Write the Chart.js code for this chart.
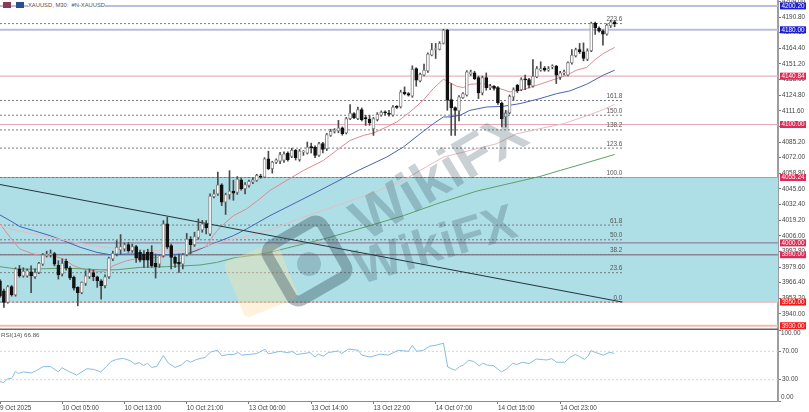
<!DOCTYPE html>
<html>
<head>
<meta charset="utf-8">
<title>XAUUSD M30</title>
<script src="https://cdn.jsdelivr.net/npm/chart.js@4/dist/chart.umd.min.js"></script>
<style>
  html, body { margin: 0; padding: 0; background: #fff; overflow: hidden; }
  #wrap { position: relative; width: 809px; height: 412px; overflow: hidden; font-family: "Liberation Sans", sans-serif; filter: blur(0.35px); }
  canvas { position: absolute; left: 0; }
  #mainChart { top: 0; }
  #rsiChart { top: 330px; }
  .hdr { position: absolute; top: 2px; height: 6px; }
  #title { position: absolute; left: 28px; top: 1px; font-size: 5.8px; line-height: 8px; color: #555; white-space: pre; background: #fff; }
  #rsiTitle { position: absolute; left: 1px; top: 331px; font-size: 6.2px; line-height: 8px; color: #555; }
  .mark { position: absolute; white-space: nowrap; pointer-events: none; }
  .wm { font-weight: bold; color: rgba(60, 85, 95, 0.27); font-family: "Liberation Sans", sans-serif; }
</style>
</head>
<body>
<div id="wrap">
  <canvas id="mainChart" width="809" height="330"></canvas>
  <canvas id="rsiChart" width="809" height="82"></canvas>
  <div id="title">XAUUSD, M30:  #N-XAUUSD</div>
  <div class="hdr" style="left:3px;width:8px;background:#8a3a55"></div>
  <div class="hdr" style="left:16px;width:8px;background:#2a4f8f"></div>
  <div id="rsiTitle">RSI(14) 66.86</div>
  <!-- watermark -->
  <div class="mark" style="left:232px;top:250px;width:58px;height:60px;background:rgba(250,226,170,0.4);transform:rotate(-22deg);border-radius:6px"></div>
  <div class="mark" style="left:270px;top:224px;width:52px;height:52px;border:11px solid rgba(60,85,95,0.4);border-radius:14px;transform:rotate(-30deg)"></div>
  <div class="mark" style="left:297px;top:252px;width:24px;height:24px;background:rgba(60,85,95,0.25);border-radius:50%"></div>
  <div class="mark wm" style="left:342px;top:145px;font-size:58px;line-height:60px;transform:rotate(-31deg)">WikiFX</div>
  <div class="mark wm" style="left:352px;top:218px;font-size:50px;line-height:52px;transform:rotate(-17deg)">WikiFX</div>
</div>

<script>
// XAUUSD M30 candles (bar index = position in the arrays)
const opens = [3968,3959.5,3949.7,3963,3956,3978,3972,3972,3975.5,3971.4,3975,3982,3989,3990,3991,3981,3973.7,3984.4,3978.7,3970.8,
  3962.4,3958,3965.7,3971.4,3975,3971.4,3968,3963.8,3971.4,3986.4,3990.6,3994,3994.8,3998.5,3993.4,3996.8,3992,3990.6,3992,3992,
  3982.7,3982,3989.2,4016,3997.7,3987.8,3983.5,3982.1,3990,4003.3,3998.5,4004.7,4010.9,4016,4007.5,4039,4041.4,4049,4034.4,4040.8,
  4043.7,4042.6,4053.3,4045.7,4048.5,4051.3,4052.7,4056,4055.6,4071,4062.6,4068,4069,4069.6,4075.9,4073,4078.1,4070.2,4076.7,4075.9,
  4081,4081,4073.9,4083.8,4079.5,4090.8,4094.2,4094.6,4097.3,4092.8,4105,4109.2,4105,4112.6,4105.8,4104.7,4096.5,4104.1,4107.8,4110.3,
  4109.5,4107.8,4114.8,4114.8,4127.5,4126.1,4123.9,4147.3,4136.9,4141.7,4145.3,4158.6,4163.4,4163.4,4168.5,4179.8,4121,4114.3,4111.4,4122.7,
  4124.7,4142.5,4143.6,4139.7,4126.7,4139.7,4131.2,4132.3,4131.2,4118.2,4106.4,4109.7,4123.3,4133.2,4129.5,4138,4138,4132.3,4140.3,4145.9,
  4147.6,4145.9,4148.7,4149.3,4140,4143.6,4141.7,4152.1,4158,4163.4,4161.4,4154.9,4162.3,4185.7,4181.5,4179.2,4176.4,4183.2,4186.8];
const closes = [3955,3949.7,3963,3956,3978,3972,3976,3976.5,3972,3975,3982.7,3990,3990.6,3991,3982,3973,3982.7,3978.7,3970.3,3961.8,
  3958,3966.6,3972.2,3975,3971.4,3968,3963.8,3971.4,3987.2,3991.2,3996.3,3996.8,3998.5,3993.4,3996.8,3987.2,3985.5,3985.5,3985.5,3980.7,
  3979.9,3989.2,4016,3996.3,3987.8,3982.7,3982.1,3990,4003.3,3998.5,4005.3,4010.9,4016,4012.6,4039.5,4041.4,4049,4034.4,4040.8,4043.7,
  4042,4053.9,4045.7,4049.3,4051.9,4053.3,4057,4055.6,4071,4062.6,4068.2,4070.2,4074.5,4075.3,4070.2,4078.1,4071.9,4077.5,4077,4081,
  4080.5,4073.9,4083.8,4079,4091.4,4094.2,4094.6,4097.3,4092.2,4105,4109.7,4105.8,4112.6,4104.1,4105,4101.3,4105,4108.6,4110.3,4109.8,
  4108.6,4114.8,4114.5,4127.5,4126.1,4124.7,4146.7,4137.4,4142.5,4145.9,4159.5,4163.4,4163.6,4168.5,4179.8,4120.5,4114.3,4112,4123.3,4126.1,
  4144.5,4144.5,4138.8,4126.7,4139.7,4131.2,4132.3,4130.4,4118.2,4104.9,4109.7,4123.9,4129.5,4128.4,4138,4137.7,4133.2,4140.8,4147.3,4147.3,
  4145.9,4147.3,4149,4141.7,4143.6,4143.9,4152.4,4158.6,4163.4,4161.4,4155.8,4162.3,4185.7,4181.8,4178.9,4176.4,4184,4186.8,4184.9];
const highs = [3969,3961,3964,3964,3979,3981,3979,3978,3980.7,3978,3983.5,3991,3993,3994,3992,3985,3986.4,3986.4,3980,3972,
  3963,3967,3976.5,3978,3977,3972,3969,3973,3988,3993,4001.9,4007,4000,4000.5,3999,3998,3994,3993.4,3994.6,3997.7,
  3990.6,3990,4018.8,4021.7,3999,3989,3990.6,3991,4008,4005.3,4009,4020.2,4019,4018.8,4041.4,4044.8,4059.8,4050,4042,4061,
  4053,4056,4054.5,4051,4053,4055,4058,4058,4072,4077.5,4069,4071,4076.5,4077,4077,4080,4079,4079,4078,4085.2,
  4084.3,4082,4085,4085,4092.5,4096,4096.5,4103.5,4098,4106,4116.8,4110,4114.8,4114,4107.8,4107.8,4106,4110,4111.5,4111.5,
  4112,4116,4116,4129,4131.8,4127,4149.6,4148,4143.5,4151,4160.5,4168.5,4168.5,4170,4180.5,4180.5,4134.6,4115,4124.5,4127,
  4145.5,4146,4145,4141,4141,4143.6,4134,4133,4132,4119,4112,4125,4131,4134,4139.5,4141.7,4139,4154.9,4149,4153,
  4149,4149,4150.5,4150,4145,4146,4153,4163.4,4164.5,4168.5,4169,4164,4186.5,4186.5,4182.5,4180,4185,4188,4188];
const lows = [3954,3945.4,3949,3955,3955,3971,3971,3971,3958,3970,3974,3981,3988,3988,3980.5,3969.4,3972,3977,3969,3960,
  3946.8,3957,3964,3970,3968,3962.4,3952.5,3962,3970,3985,3989,3990.6,3993,3992,3992,3983.5,3984,3979.3,3979.3,3979.3,
  3970.3,3979.3,3988,3995,3977.9,3979.3,3975,3977.9,3989,3990.6,3997,4003,4009,4007.5,4006,4038,4040,4031.5,4024,4037,
  4036,4041,4044.5,4041.4,4047,4050,4052,4054.5,4055,4061.8,4058.9,4067,4067,4068,4069,4072,4070,4069,4073.9,4075,
  4075.9,4072,4073,4076,4078,4090,4092.8,4093,4091,4092,4104,4105,4104,4103,4099.3,4099.3,4090.8,4103,4107,4107.8,
  4107,4107,4113.5,4114,4125,4124,4123,4132.3,4136,4141,4144,4158,4155.8,4163,4168,4112,4090.8,4090.8,4103,4122,
  4124,4141.5,4138,4121.9,4125,4129,4129.5,4129,4117,4097.9,4097.9,4109,4120.5,4127,4128.5,4129.5,4131,4131.5,4139.5,4145,
  4145,4145,4147,4134.6,4138,4142,4141,4151,4157,4160,4153.8,4154,4161.5,4176.1,4178,4167.1,4175.5,4182,4182.6];

// moving averages, traced as bar index + price
const maRedX = [0,2.6,5.1,8.6,11,13.7,16.3,18.9,21.4,25.7,27.4,29.1,32.6,36,41.1,44.6,48,50.6,53.1,54.8,56.6,60,63.4,66.8,69.4,78,83.1,86.5,90,93.4,96,99.4,102,105.4,108.8,111.4,114,115.3,117.4,119.1,120.8,124.2,127.7,131.1,134.5,138.8,143.1,145.7,148.2,150.8,153,155.1,158];
const maRedY = [4016,4004.7,3994.8,3990.6,3989.2,3989.2,3986.4,3980.7,3977.9,3975.6,3976.5,3980.7,3985,3987.2,3987.8,3990.6,3990.6,3993.4,3997.7,4006.1,4013.2,4023,4028.7,4037.2,4044.3,4061.2,4069.6,4078.1,4086.6,4090.8,4092.8,4097.9,4102.1,4110.6,4120.5,4130.4,4138.3,4136,4132.3,4131.2,4134,4134.6,4131.2,4127.5,4129.5,4134,4138.8,4141.7,4145.9,4148.2,4154.9,4160,4165.1];
const maBlueX = [0,2.6,5.1,8.6,12.9,16.3,20.6,24.9,28.3,32.6,36,41.1,44.6,48,51.4,55.7,60,63.4,69.4,80.5,92.1,99.4,103.7,108,111.4,114,115.7,118.3,120.8,125.1,129.4,133.7,138.8,143.1,146.5,150.8,155.1,158];
const maBlueY = [4023.6,4018.8,4013.8,4010.4,4006.1,4001.9,3996.3,3992,3990,3990.6,3990.6,3989.8,3990,3990.6,3994.8,4000.5,4006.1,4011.8,4023,4041.4,4061.2,4072.5,4081,4092.2,4100.7,4106.4,4106.4,4107.8,4112,4114.8,4115.4,4117.7,4121.9,4126.1,4128.4,4134,4141.7,4145.9];
const maPinkX = [0,4.3,8.6,12.9,17.1,21.4,25.7,29.1,34.3,41.1,46.3,51.4,56.6,60,64.3,69.4,78,86.5,95.1,103.7,108,114,120.8,127.7,132.8,138.8,144.8,150,155.1,158];
const maPinkY = [4014.6,4010.4,4007.5,4004.7,4001.9,3999.1,3996.8,3995.7,3994.8,3993.4,3993.4,3995.7,4000.5,4003.3,4006.1,4010.9,4021.7,4031.5,4041.4,4052.7,4061.2,4072.5,4078.1,4083.8,4092.2,4096.5,4100.7,4106.4,4112.6,4117.1];
const maGreenX = [0,4.3,8.6,17.1,25.7,30,36,42.8,51.4,55.7,60,64.3,69.4,78,84.8,95.1,103.7,112.3,122.5,138.8,144,149.9,158];
const maGreenY = [3979.9,3977.9,3977.9,3978.7,3977.3,3977.3,3979.3,3979.9,3981.3,3983.5,3987.2,3989.2,3992,3999.1,4004.7,4014.6,4023,4033,4043.7,4056.1,4061.2,4066.8,4074.7];

// RSI(14)
const rsiX = [0,0.9,2.1,3,4,4.7,6,8.1,9.4,11,12.9,15,15.9,17.6,19.7,22.3,24,25.9,27.4,28.5,30,31.7,33.4,34.7,35.8,36.9,37.9,39,40.3,42,43.3,45,46.7,48,49,50.6,52.7,54.2,55.9,57,58.7,60,61.3,62.1,63.8,66,68.1,69,72,74.1,75,76.3,79.7,81,81.8,83.1,84.4,87,87.8,89.6,92.1,93,95.1,97.7,99.8,102.4,105,106,107.1,108.8,110.5,111.8,114,115.1,117,118.2,119.1,120.4,121.7,123.2,124.1,125.3,126.8,128.9,130.2,131.8,132.8,134.3,136,137.9,139.7,140.5,141.8,143.1,145.2,146.5,148,150.2,151.2,151.9,153.4,155.1,156.8,157.9];
const rsiY = [27.3,26,31.8,31.8,41.9,38.7,41,39.6,42.8,48.2,48.7,41,46.9,41.9,36.4,45.5,44.6,41,48.7,55.5,58.7,60,56.9,51.9,54.1,50,53.2,47.3,48.7,64.1,53.2,47.3,50.9,57.3,54.6,58.7,61.4,69.1,71.4,63.7,65.5,65.5,68.2,64.6,65.5,66.9,72.8,66.4,70,67.8,70,65.5,68.2,61.9,66,63.2,68.2,70.5,66.9,73.2,71.4,64.6,61.9,66,64.6,71.4,70,78.2,70,71.4,77.3,78.2,81.4,47.8,43.2,48.7,50.5,57.3,55.9,49.6,53.2,50.5,50,41,45,53.2,51.4,54.6,52.8,59.1,58.2,57.8,59.6,54.6,54.6,61.4,65.5,58.7,63.2,70.9,67.8,64.6,68.7,66.9];

// axis ticks
const priceTicks = [4204,4190.8,4177.6,4164.4,4151.2,4138,4124.8,4111.6,4098.4,4085.2,4072,4058.8,4045.6,4032.4,4019.2,4006,3992.8,3979.6,3966.4,3953.2,3940];
const rsiTicks = [100,70,30,0];
const timeTicks = [0,16,32,48,64,80,96,112,128,144];
const timeLabels = ['9 Oct 2025','10 Oct 05:00','10 Oct 13:00','10 Oct 21:00','13 Oct 06:00','13 Oct 14:00','13 Oct 22:00','14 Oct 07:00','14 Oct 15:00','14 Oct 23:00'];

// horizontal levels and their price tags
const levelPrices = [4200.2,4180,4140.84,4100,4055.24,4000,3990,3950,3930];
const levelTags = ['4200.20','4180.00','4140.84','4100.00','4055.24','4000.00','3990.00','3950.00','3930.00'];
const levelColors = ['#bcbcdc','#bcbcdc','#e6b3bb','#e6a9b4','#d58a96','#957f9c','#8f8398','#eab7b5','#f7b8b2'];
const levelWidths = [2,2,1.2,1.2,1.2,1.2,1.5,1.2,2];
const tagColors = ['#1c1cd0','#1c1cd0','#dc2c55','#dc2c55','#dc2c55','#dc2c55','#dc2c55','#f01c1c','#f01c1c'];

// fibonacci retracement
const fibNames = ['0.0','23.6','38.2','50.0','61.8','100.0','123.6','138.2','150.0','161.8','223.6'];
const fibPrices = [3950,3974.84,3990.2,4002.62,4015.04,4055.24,4080.08,4095.44,4107.86,4120.28,4185.28];
const fibEnd = 160;

// trend line
const trendX = [0,160];
const trendY = [4049.3,3950];

const FONT_SIZE = 6.4;
const FONT = FONT_SIZE + 'px "Liberation Sans", sans-serif';
const XMAX = 200;

function toPoints(xs, ys) {
    return xs.map((x, i) => ({ x: x, y: ys[i] }));
}

function lineSet(points, color, width, extra) {
    return Object.assign({
        type: 'line', data: points, borderColor: color, borderWidth: width,
        pointRadius: 0, tension: 0, fill: false, order: 5
    }, extra || {});
}

// tick labels at the panel edge must not push the plot area in
function noEdgePadding(scale) {
    scale.paddingTop = 0;
    scale.paddingBottom = 0;
    scale.paddingLeft = 0;
    scale.paddingRight = 0;
}

const datasets = [];

// cyan box between the 100 and 0 fib levels
datasets.push(lineSet(toPoints([0, XMAX], [fibPrices[5], fibPrices[5]]), 'rgba(0,0,0,0)', 0, {
    fill: { value: fibPrices[0] }, backgroundColor: '#aedfe7', order: 20
}));

levelPrices.forEach((p, i) => {
    datasets.push(lineSet(toPoints([0, XMAX], [p, p]), levelColors[i], levelWidths[i], { order: 15 }));
});
fibPrices.forEach(p => {
    datasets.push(lineSet(toPoints([0, fibEnd], [p, p]), '#777c80', 1, { borderDash: [2, 2], order: 14 }));
});

datasets.push(lineSet(toPoints(maGreenX, maGreenY), '#5f9f6a', 1));
datasets.push(lineSet(toPoints(maPinkX, maPinkY), '#e6bcc2', 1));
datasets.push(lineSet(toPoints(maBlueX, maBlueY), '#4a62b8', 1));
datasets.push(lineSet(toPoints(maRedX, maRedY), '#de8a92', 1));
datasets.push(lineSet(toPoints(trendX, trendY), '#24343c', 1, { order: 4 }));

// candles: thin bar for the wick, wider bar for the body
datasets.push({
    type: 'bar', grouped: false, order: 3, barThickness: 1,
    data: opens.map((o, i) => ({ x: i, y: [lows[i], highs[i]] })),
    backgroundColor: '#4a4a4a'
});
datasets.push({
    type: 'bar', grouped: false, order: 2, barThickness: 3, minBarLength: 1,
    data: opens.map((o, i) => ({ x: i, y: [o, closes[i]] })),
    backgroundColor: opens.map((o, i) => closes[i] >= o ? '#ffffff' : '#111111'),
    borderColor: opens.map((o, i) => closes[i] >= o ? '#8a8a8a' : '#111111'),
    borderWidth: 1, borderSkipped: false
});

const tagPlugin = {
    id: 'tagPlugin',
    afterDraw(chart) {
        const ctx = chart.ctx, yScale = chart.scales.y, xScale = chart.scales.x;
        ctx.save();
        ctx.font = FONT;
        // fib level names, right aligned on the line end
        ctx.textAlign = 'right';
        ctx.textBaseline = 'bottom';
        ctx.fillStyle = '#555';
        fibNames.forEach((name, i) => {
            ctx.fillText(name, xScale.getPixelForValue(fibEnd), yScale.getPixelForValue(fibPrices[i]) - 1);
        });
        // price tags on the axis
        ctx.textAlign = 'center';
        ctx.textBaseline = 'middle';
        levelTags.forEach((tag, i) => {
            const y = yScale.getPixelForValue(levelPrices[i]);
            ctx.fillStyle = tagColors[i];
            ctx.fillRect(780, y - 3.5, 26, 7);
            ctx.fillStyle = '#fff';
            ctx.fillText(tag, 793, y);
        });
        // dark separator above the RSI panel
        ctx.fillStyle = '#666';
        ctx.fillRect(0, 328.5, 778, 1.5);
        ctx.restore();
    }
};

new Chart(document.getElementById('mainChart'), {
    data: { datasets: datasets },
    plugins: [tagPlugin],
    options: {
        responsive: false,
        animation: false,
        layout: { padding: 0 },
        plugins: { legend: { display: false }, tooltip: { enabled: false } },
        scales: {
            // bar defaults turn offset on, which would inset the plot
            x: { type: 'linear', min: 0, max: XMAX, display: false, offset: false, grid: { offset: false } },
            y: {
                position: 'right', min: 3926.4, max: 4205.2,
                afterBuildTicks: scale => { scale.ticks = priceTicks.map(v => ({ value: v })); },
                afterFit: scale => { scale.width = 31; noEdgePadding(scale); },
                ticks: {
                    font: { family: '"Liberation Sans", sans-serif', size: FONT_SIZE }, color: '#444', padding: 1,
                    autoSkip: false, callback: v => v.toFixed(2)
                },
                grid: { drawOnChartArea: false, tickLength: 3, color: '#777' },
                border: { color: '#9a9ea0', width: 2 }
            }
        }
    }
});

// labels for 100 and 0 sit inside the panel, not on the tick
const rsiEndLabels = {
    id: 'rsiEndLabels',
    afterDraw(chart) {
        const ctx = chart.ctx, area = chart.chartArea;
        ctx.save();
        ctx.font = FONT;
        ctx.fillStyle = '#444';
        ctx.textBaseline = 'middle';
        ctx.fillText('100.00', 781, area.top + 3.5);
        ctx.fillText('0.00', 781, area.bottom - 3.5);
        ctx.restore();
    }
};

new Chart(document.getElementById('rsiChart'), {
    data: {
        datasets: [
            lineSet(toPoints([0, XMAX], [70, 70]), '#d4d4d4', 1, { borderDash: [2, 2] }),
            lineSet(toPoints([0, XMAX], [30, 30]), '#d4d4d4', 1, { borderDash: [2, 2] }),
            lineSet(toPoints(rsiX, rsiY), '#86bde0', 1, { order: 1 })
        ]
    },
    plugins: [rsiEndLabels],
    options: {
        responsive: false,
        animation: false,
        layout: { padding: 0 },
        plugins: { legend: { display: false }, tooltip: { enabled: false } },
        scales: {
            x: {
                type: 'linear', min: 0, max: XMAX,
                afterBuildTicks: scale => { scale.ticks = timeTicks.map(v => ({ value: v })); },
                afterFit: scale => { scale.height = 11; noEdgePadding(scale); },
                ticks: {
                    font: { family: '"Liberation Sans", sans-serif', size: FONT_SIZE }, color: '#444',
                    align: 'start', maxRotation: 0, autoSkip: false, padding: 0,
                    callback: v => timeLabels[timeTicks.indexOf(v)]
                },
                grid: { drawOnChartArea: false, tickLength: 3, color: '#777' },
                border: { color: '#8a8a8a' }
            },
            y: {
                position: 'right', min: 0, max: 100,
                afterBuildTicks: scale => { scale.ticks = rsiTicks.map(v => ({ value: v })); },
                afterFit: scale => { scale.width = 31; noEdgePadding(scale); },
                ticks: {
                    font: { family: '"Liberation Sans", sans-serif', size: FONT_SIZE }, color: '#444', padding: 1,
                    callback: v => (v === 70 || v === 30) ? v.toFixed(2) : ''
                },
                grid: { drawOnChartArea: false, tickLength: 3, color: '#777' },
                border: { color: '#9a9ea0', width: 2 }
            }
        }
    }
});
</script>
</body>
</html>
